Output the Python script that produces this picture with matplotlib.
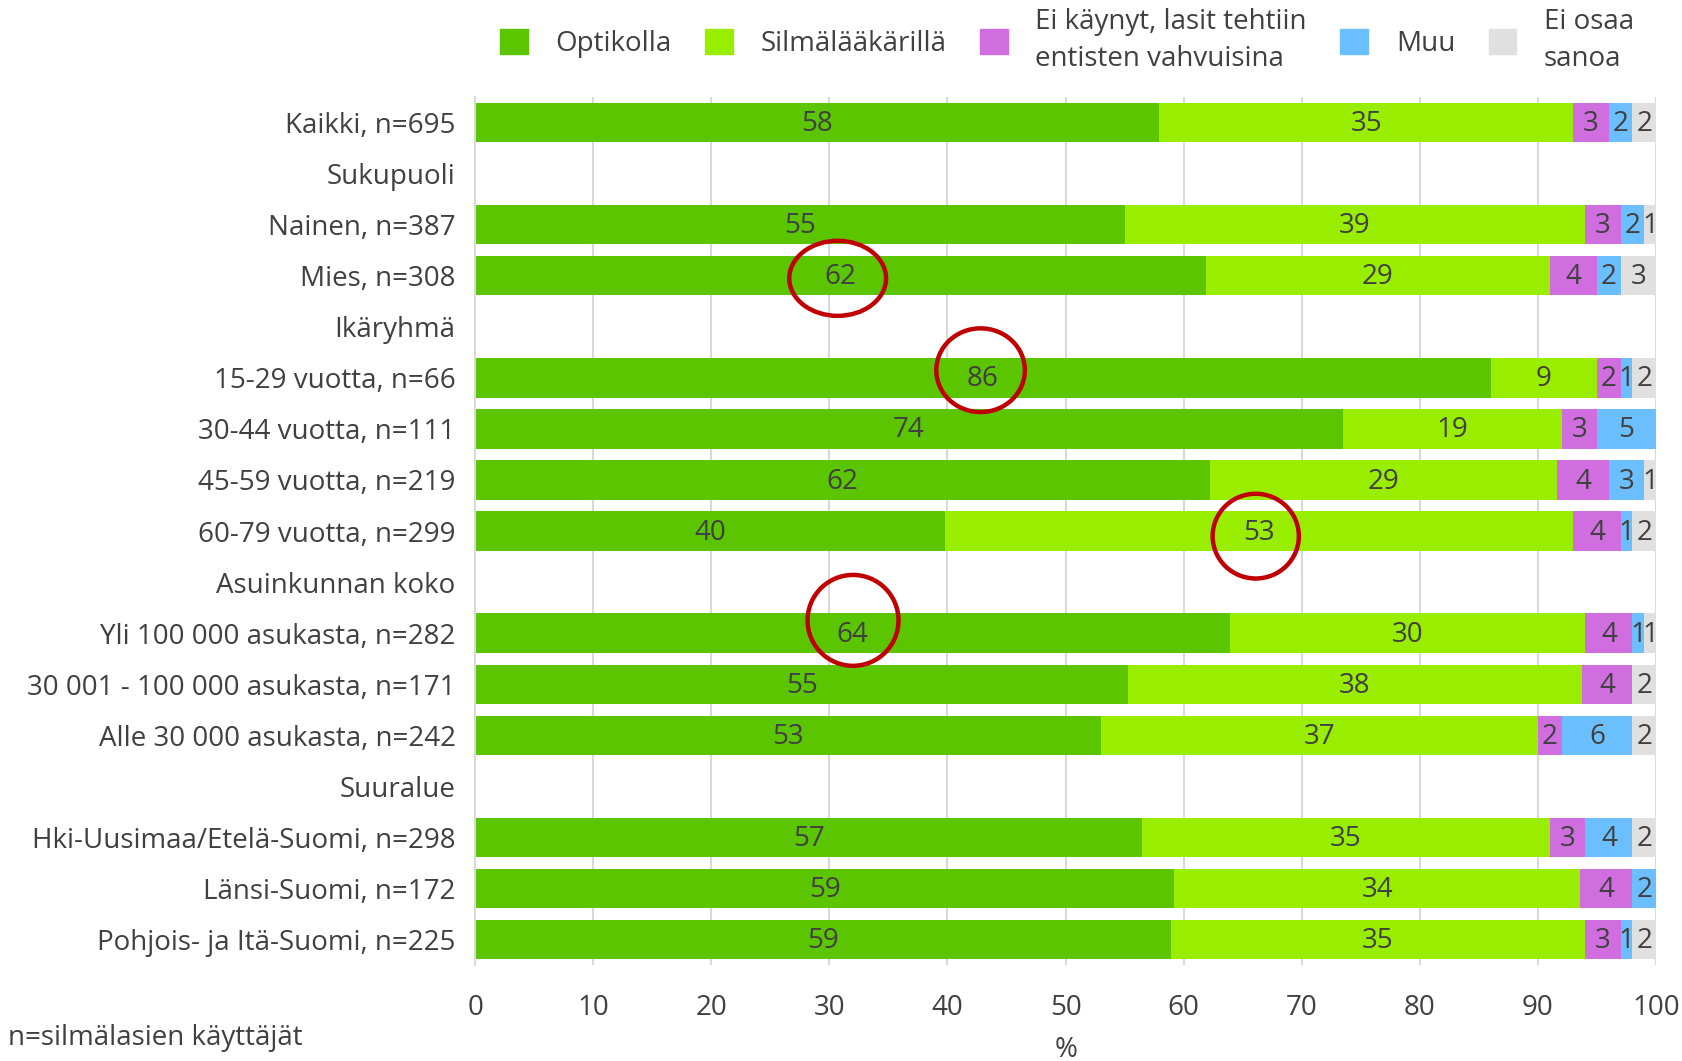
import matplotlib
matplotlib.use('Agg')
import matplotlib.pyplot as plt
from matplotlib.patches import Patch, Ellipse
import numpy as np

plt.rcParams['font.family'] = ['Open Sans', 'DejaVu Sans']

# rivit ylhäältä alas, väliotsikoilla ei palkkeja
categories = ['Kaikki, n=695', 'Sukupuoli', 'Nainen, n=387', 'Mies, n=308', 'Ikäryhmä',
              '15-29 vuotta, n=66', '30-44 vuotta, n=111', '45-59 vuotta, n=219',
              '60-79 vuotta, n=299', 'Asuinkunnan koko', 'Yli 100 000 asukasta, n=282',
              '30 001 - 100 000 asukasta, n=171', 'Alle 30 000 asukasta, n=242', 'Suuralue',
              'Hki-Uusimaa/Etelä-Suomi, n=298', 'Länsi-Suomi, n=172', 'Pohjois- ja Itä-Suomi, n=225']

optikolla = [57.9, 0, 55.0, 61.9, 0, 86.0, 73.5, 62.2, 39.8, 0, 63.9, 55.3, 53.0, 0, 56.5, 59.2, 58.9]
silmalaakari = [35.1, 0, 39.0, 29.1, 0, 9.0, 18.5, 29.4, 53.2, 0, 30.1, 38.4, 37.0, 0, 34.5, 34.4, 35.1]
ei_kaynyt = [3.0, 0, 3.0, 4.0, 0, 2.0, 3.0, 4.4, 4.0, 0, 4.0, 4.3, 2.0, 0, 3.0, 4.4, 3.0]
muu = [2.0, 0, 2.0, 2.0, 0, 1.0, 5.0, 3.0, 1.0, 0, 1.0, 0, 6.0, 0, 4.0, 2.0, 1.0]
ei_osaa = [2.0, 0, 1.0, 3.0, 0, 2.0, 0, 1.0, 2.0, 0, 1.0, 2.0, 2.0, 0, 2.0, 0, 2.0]

series = [optikolla, silmalaakari, ei_kaynyt, muu, ei_osaa]
names = ['Optikolla', 'Silmälääkärillä', 'Ei käynyt, lasit tehtiin\nentisten vahvuisina',
         'Muu', 'Ei osaa\nsanoa']
colors = ['#5BC500', '#99EE00', '#D06EE0', '#6CBFFF', '#E0E0E0']

# ympyröidyt arvot: (rivi, x-keskikohta, leveys, korkeus)
highlights = [(3.05, 30.7, 8.2, 1.47), (4.85, 42.8, 7.5, 1.64),
              (8.1, 66.1, 7.3, 1.66), (9.75, 32.0, 7.7, 1.78)]

txt = '#404040'
fs = 20

fig = plt.figure(figsize=(16.83, 10.61), dpi=100)
ax = fig.add_axes([0.2823, 0.0905, 0.7017, 0.818])

y = np.arange(len(categories))
left = np.zeros(len(categories))
for vals, c in zip(series, colors):
    vals = np.array(vals)
    ax.barh(y, vals, left=left, height=0.77, color=c, zorder=2)
    for i, v in enumerate(vals):
        if v > 0:
            ax.text(left[i] + v / 2, i + 0.03, f'{int(v + 0.5)}', ha='center', va='center',
                    fontsize=fs, color=txt, zorder=3)
    left += vals

for r, x, w, h in highlights:
    ax.add_patch(Ellipse((x, r), w, h, fill=False, ec='#C00000', lw=3.2, zorder=4))

ax.set_xlim(0, 100)
ax.set_ylim(len(categories) - 0.5, -0.5)
ax.set_xticks(range(0, 101, 10))
ax.set_yticks(y)
ax.set_yticklabels(categories)
ax.tick_params(axis='both', length=0, labelsize=fs, colors=txt)
ax.tick_params(axis='y', pad=14)
ax.tick_params(axis='x', pad=21)
ax.grid(axis='x', color='#D9D9D9', lw=1.5, zorder=0)
ax.set_axisbelow(True)
for s in ['top', 'right', 'bottom']:
    ax.spines[s].set_visible(False)
ax.spines['left'].set_color('#D9D9D9')
ax.spines['left'].set_linewidth(1.5)
ax.set_xlabel('%', fontsize=fs, color=txt, labelpad=10)

handles = [Patch(color=c) for c in colors]
leg = fig.legend(handles, names, loc='center', bbox_to_anchor=(0.634, 0.9616), ncol=5,
                 frameon=False, fontsize=fs, handlelength=1.0, handleheight=1.0,
                 handletextpad=1.0, columnspacing=1.2)
for t in leg.get_texts():
    t.set_color(txt)
    t.set_linespacing(1.45)

fig.text(0.005, 0.022, 'n=silmälasien käyttäjät', fontsize=fs, color=txt, ha='left', va='center')

fig.savefig('out.png', dpi=100)
